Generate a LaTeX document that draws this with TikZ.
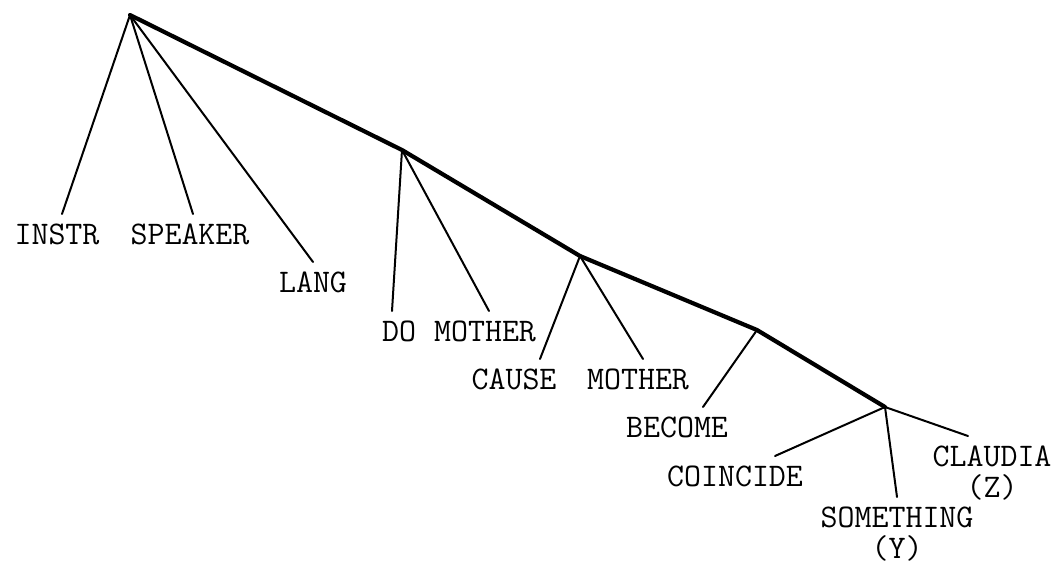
\documentclass[tikz,border=0pt]{standalone}
\usepackage{fontspec}
\usetikzlibrary{positioning, calc}
\tikzset{
    leaf/.style={inner xsep=0pt, inner ysep=10pt, anchor=north, align=center, font=\ttfamily\fontsize{33}{31}\selectfont},
    spine/.style={line width=4.2pt, line join=round, line cap=round},
    branch/.style={line width=2pt, line cap=round}
}
\begin{document}
\begin{tikzpicture}[x=1pt, y=-1pt]
    \useasboundingbox (0,0) rectangle (1060,568);

    \coordinate (top) at (130,15);
    \coordinate (do-node) at (402,150);
    \coordinate (cause-node) at (580,256);
    \coordinate (become-node) at (757,330);
    \coordinate (coincide-node) at (885,407);

    \node[leaf] (instr) at (57,214) {INSTR};
    \node[leaf] (speaker) at (190,214) {SPEAKER};
    \node[leaf] (lang) at (313,262) {LANG};
    \node[leaf] (do) at (399,311) {DO};
    \node[leaf] (mother) at (485,311) {MOTHER};
    \node[leaf] (cause) at (514,359) {CAUSE};
    \node[leaf] (mother2) at (638,359) {MOTHER};
    \node[leaf] (become) at (677,407) {BECOME};
    \node[leaf] (coincide) at (735,456) {COINCIDE};
    \node[leaf] (something) at (897,497) {SOMETHING\\(Y)};
    \node[leaf] (claudia) at (992,436) {CLAUDIA\\(Z)};

    \draw[spine] (top) -- (do-node) -- (cause-node) -- (become-node) -- (coincide-node);

    \draw[branch] (top) -- ([xshift=5pt]instr.north);
    \draw[branch] (top) -- ([xshift=3pt]speaker.north);
    \draw[branch] (top) -- (lang.north);
    \draw[branch] (do-node) -- ([xshift=-7pt]do.north);
    \draw[branch] (do-node) -- ([xshift=4pt]mother.north);
    \draw[branch] (cause-node) -- ([xshift=26pt]cause.north);
    \draw[branch] (cause-node) -- ([xshift=5pt]mother2.north);
    \draw[branch] (become-node) -- ([xshift=26pt]become.north);
    \draw[branch] (coincide-node) -- ([xshift=40pt]coincide.north);
    \draw[branch] (coincide-node) -- (something.north);
    \draw[branch] (coincide-node) -- ([xshift=-24pt]claudia.north);
\end{tikzpicture}
\end{document}
